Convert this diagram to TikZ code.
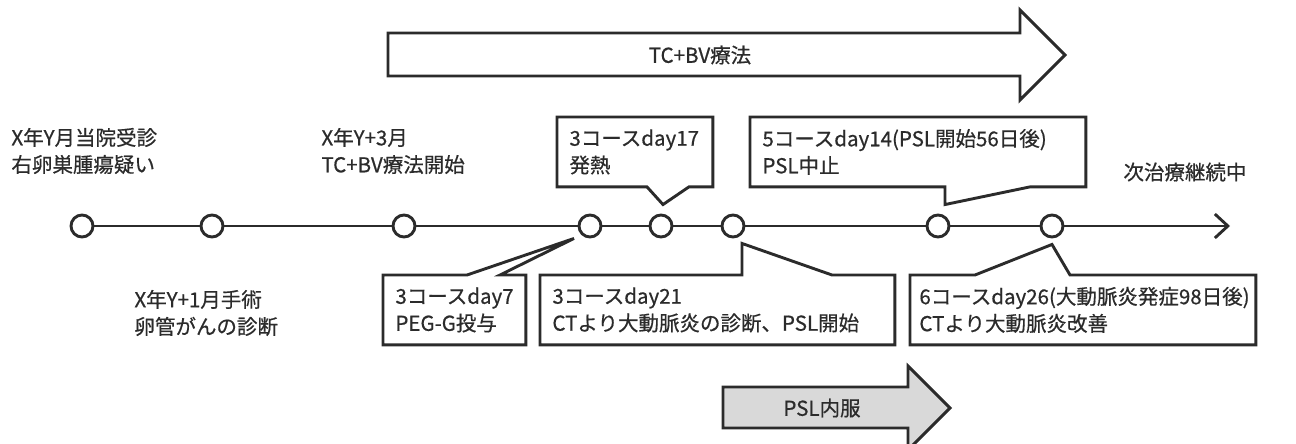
\documentclass[tikz,border=0pt]{standalone}
\usepackage{fontspec}
\setmainfont{Noto Sans CJK JP}[FakeBold=0.6]
\usetikzlibrary{arrows.meta,positioning,calc}
\definecolor{ink}{HTML}{2B2B2B}
\definecolor{pslGray}{HTML}{D9D9D9}
\newcommand\jtext{\fontsize{20.5}{27}\selectfont}

\begin{document}
\begin{tikzpicture}[x=1pt,y=-1pt,line width=2.9pt,ink,text=ink,
    ev/.style={circle,draw=ink,fill=white,minimum size=22pt,inner sep=0pt},
    lbl/.style={anchor=west,align=left,font=\jtext,inner sep=0pt},
    cbox/.style={anchor=north west,align=left,inner xsep=11pt,inner ysep=0pt,
      minimum height=67pt,text width=#1,font=\jtext},
    frame/.style={draw=ink,line join=miter}]
  \useasboundingbox (0,0) rectangle (1296,444);

  % treatment arrows
  \draw[frame] (388,33) -- (1020,33) -- (1020,10) -- (1065,55) -- (1020,100)
    -- (1020,76) -- (388,76) -- cycle;
  \node[font=\jtext] (tcbv) at (700,55) {TC+BV療法};
  \draw[frame,fill=pslGray] (723,387) -- (908,387) -- (908,366) -- (950,408)
    -- (908,450) -- (908,428) -- (723,428) -- cycle;
  \node[font=\jtext] (psl) at (822,408) {PSL内服};

  % timeline
  \foreach \i/\x in {1/82,2/212,3/404,4/590,5/661,6/733,7/938,8/1052} {
    \node[ev] (e\i) at (\x,226) {};
  }
  \foreach \i in {1,...,7} {
    \pgfmathtruncatemacro{\j}{\i+1}
    \draw (e\i) -- (e\j);
  }
  \coordinate (tlend) at (1230,226);
  \draw[-{Straight Barb[length=13pt,width=24pt]}] (e8) -- (tlend);

  % plain labels
  \node[lbl] (t1) at (10,151) {X年Y月当院受診\\右卵巣腫瘍疑い};
  \node[lbl] (t2) at (320,151) {X年Y+3月\\TC+BV療法開始};
  \node[lbl] (t3) at (133,313) {X年Y+1月手術\\卵管がんの診断};
  \node[lbl] (t4) at (1122,172) {次治療継続中};

  % callouts above
  \node[cbox=131pt] (c17) at (557,117) {3コースday17\\発熱};
  \draw[frame] (c17.north west) -- (c17.north east) -- (c17.south east)
    -- ++(-24,0) -- ($(e5.north)+(2,-9)$) -- ($(c17.south west)+(90,0)$)
    -- (c17.south west) -- cycle;
  \node[cbox=311pt] (c14) at (750,117) {5コースday14(PSL開始56日後)\\PSL中止};
  \draw[frame] (c14.north west) -- (c14.north east) -- (c14.south east)
    -- ++(-56,0) -- ($(e7.north)+(7,-9)$) -- ($(c14.south west)+(195,0)$)
    -- (c14.south west) -- cycle;

  % callouts below
  \node[cbox=118pt] (c7) at (383,275) {3コースday7\\PEG-G投与};
  \draw[frame] (c7.south west) -- (c7.north west) -- ($(c7.north west)+(84,0)$)
    -- ($(e4.south)+(-16,0)$) -- ($(c7.north west)+(117,0)$)
    -- (c7.north east) -- (c7.south east) -- cycle;
  \node[cbox=330pt] (c21) at (540,275) {3コースday21\\CTより大動脈炎の診断、PSL開始};
  \draw[frame] (c21.south west) -- (c21.north west) -- ($(c21.north west)+(202,0)$)
    -- ($(e6.south)+(9,5)$) -- ($(c21.north west)+(292,0)$)
    -- (c21.north east) -- (c21.south east) -- cycle;
  \node[cbox=327pt,inner xsep=8pt] (c26) at (910,275) {6コースday26(大動脈炎発症98日後)\\CTより大動脈炎改善};
  \draw[frame] (c26.south west) -- (c26.north west) -- ($(c26.north west)+(65,0)$)
    -- ($(e8.south)+(0,6)$) -- ($(c26.north west)+(160,0)$)
    -- (c26.north east) -- (c26.south east) -- cycle;
\end{tikzpicture}
\end{document}
